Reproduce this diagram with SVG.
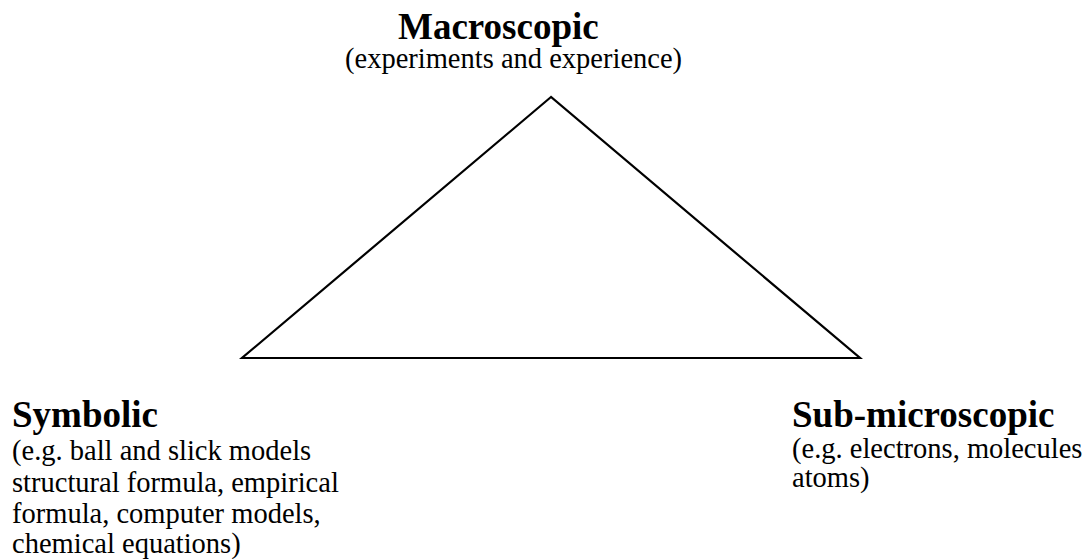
<svg xmlns="http://www.w3.org/2000/svg" width="1084" height="559" viewBox="0 0 1084 559">
<defs>
<style>.edge{fill:none;stroke:#000;stroke-width:2.2;stroke-linejoin:miter}</style>
</defs>
<rect width="1084" height="559" fill="#fff"/>
<g id="connectors">
<polygon class="edge" points="551,97 242,358 860,358"/>
</g>
<g id="macroscopic">
<text font-family="Liberation Serif, serif" font-weight="bold" font-size="37" x="398" y="39">Macroscopic</text>
<text font-family="Liberation Serif, serif" font-size="28.5" x="345" y="68">(experiments and experience)</text>
</g>
<g id="symbolic">
<text font-family="Liberation Serif, serif" font-weight="bold" font-size="37" x="12" y="427">Symbolic</text>
<text font-family="Liberation Serif, serif" font-size="28.5" x="12" y="460">(e.g. ball and slick models</text>
<text font-family="Liberation Serif, serif" font-size="28.5" x="12" y="492">structural formula, empirical</text>
<text font-family="Liberation Serif, serif" font-size="28.5" x="12" y="523">formula, computer models,</text>
<text font-family="Liberation Serif, serif" font-size="28.5" x="12" y="553">chemical equations)</text>
</g>
<g id="submicroscopic">
<text font-family="Liberation Serif, serif" font-weight="bold" font-size="37" x="792" y="427">Sub-microscopic</text>
<text font-family="Liberation Serif, serif" font-size="28.5" x="792" y="458">(e.g. electrons, molecules</text>
<text font-family="Liberation Serif, serif" font-size="28.5" x="792" y="487">atoms)</text>
</g>
</svg>
